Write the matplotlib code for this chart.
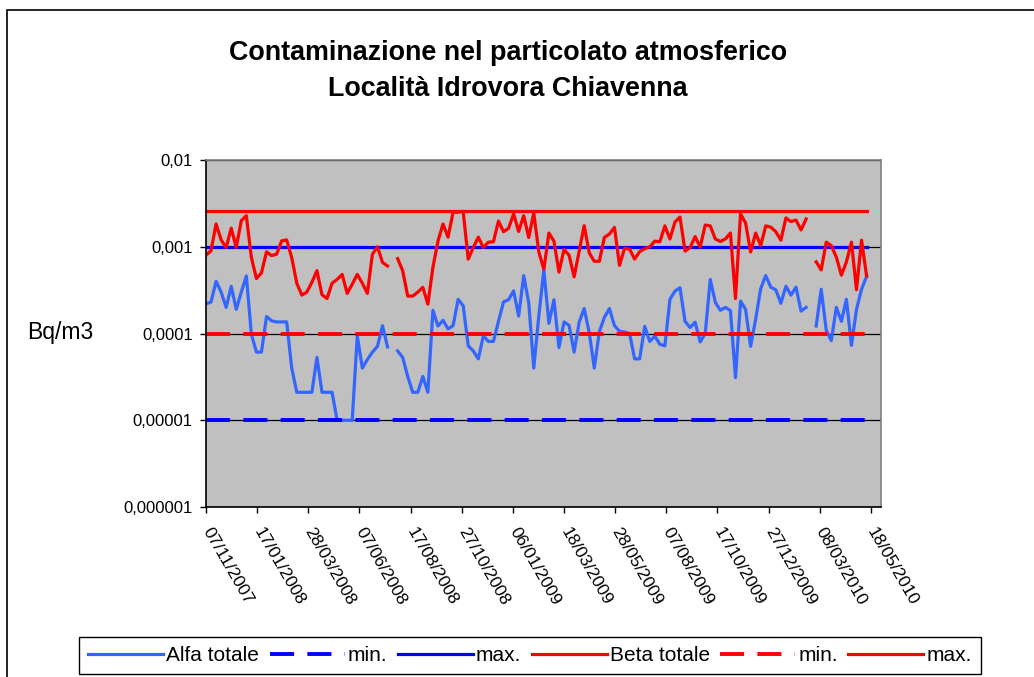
import matplotlib
matplotlib.use("Agg")
import matplotlib.pyplot as plt
import numpy as np
import pandas as pd
from matplotlib.patches import Rectangle

nan = np.nan

# weekly samples, Bq/m3
alfa = [2.2e-4, 2.3e-4, 4.0e-4, 3.0e-4, 2.0e-4, 3.5e-4, 1.9e-4, 3.0e-4, 4.6e-4, 0.98e-4,
        0.61e-4, 0.61e-4, 1.57e-4, 1.40e-4, 1.36e-4, 1.36e-4, 1.36e-4, 0.40e-4, 0.21e-4, 0.21e-4,
        0.21e-4, 0.21e-4, 0.53e-4, 0.21e-4, 0.21e-4, 0.21e-4, 1.0e-5, 1.0e-5, 1.0e-5, 1.0e-5,
        0.94e-4, 0.40e-4, 0.50e-4, 0.61e-4, 0.71e-4, 1.23e-4, 0.70e-4, nan, 0.63e-4, 0.53e-4,
        0.32e-4, 0.21e-4, 0.21e-4, 0.32e-4, 0.21e-4, 1.85e-4, 1.22e-4, 1.42e-4, 1.13e-4, 1.23e-4,
        2.48e-4, 2.09e-4, 0.72e-4, 0.63e-4, 0.51e-4, 0.94e-4, 0.81e-4, 0.81e-4, 1.38e-4, 2.31e-4,
        2.45e-4, 3.1e-4, 1.59e-4, 4.65e-4, 2.26e-4, 0.40e-4, 1.6e-4, 5.4e-4, 1.31e-4, 2.45e-4,
        0.69e-4, 1.36e-4, 1.24e-4, 0.61e-4, 1.35e-4, 1.94e-4, 1.02e-4, 0.40e-4, 1.05e-4, 1.53e-4,
        1.94e-4, 1.23e-4, 1.06e-4, 1.04e-4, 1.0e-4, 0.51e-4, 0.51e-4, 1.21e-4, 0.81e-4, 0.93e-4,
        0.75e-4, 0.72e-4, 2.48e-4, 3.08e-4, 3.37e-4, 1.38e-4, 1.17e-4, 1.35e-4, 0.80e-4, 1.0e-4,
        4.2e-4, 2.29e-4, 1.85e-4, 2.0e-4, 1.84e-4, 0.31e-4, 2.36e-4, 1.9e-4, 0.71e-4, 1.46e-4,
        3.29e-4, 4.65e-4, 3.42e-4, 3.18e-4, 2.23e-4, 3.5e-4, 2.77e-4, 3.42e-4, 1.81e-4, 2.0e-4,
        nan, 1.22e-4, 3.24e-4, 1.09e-4, 0.83e-4, 2.0e-4, 1.38e-4, 2.48e-4, 0.73e-4, 1.9e-4,
        3.24e-4, 4.55e-4]

beta = [0.80e-3, 0.90e-3, 1.83e-3, 1.20e-3, 0.98e-3, 1.64e-3, 0.98e-3, 2.0e-3, 2.28e-3, 0.75e-3,
        0.43e-3, 0.50e-3, 0.875e-3, 0.79e-3, 0.82e-3, 1.17e-3, 1.20e-3, 0.75e-3, 0.38e-3, 0.277e-3,
        0.30e-3, 0.39e-3, 0.53e-3, 0.28e-3, 0.253e-3, 0.38e-3, 0.42e-3, 0.48e-3, 0.29e-3, 0.37e-3,
        0.48e-3, 0.38e-3, 0.29e-3, 0.82e-3, 1.0e-3, 0.66e-3, 0.60e-3, nan, 0.73e-3, 0.53e-3,
        0.27e-3, 0.27e-3, 0.30e-3, 0.34e-3, 0.218e-3, 0.58e-3, 1.16e-3, 1.83e-3, 1.29e-3, 2.5e-3,
        2.5e-3, 2.55e-3, 0.72e-3, 0.98e-3, 1.29e-3, 0.98e-3, 1.13e-3, 1.14e-3, 1.98e-3, 1.49e-3,
        1.63e-3, 2.39e-3, 1.50e-3, 2.28e-3, 1.28e-3, 2.45e-3, 0.87e-3, 0.55e-3, 1.44e-3, 1.16e-3,
        0.51e-3, 0.93e-3, 0.80e-3, 0.45e-3, 0.89e-3, 1.75e-3, 0.85e-3, 0.68e-3, 0.68e-3, 1.28e-3,
        1.40e-3, 1.67e-3, 0.61e-3, 0.96e-3, 0.94e-3, 0.72e-3, 0.88e-3, 0.95e-3, 1.0e-3, 1.16e-3,
        1.14e-3, 1.74e-3, 1.23e-3, 1.93e-3, 2.2e-3, 0.89e-3, 0.98e-3, 1.31e-3, 0.99e-3, 1.78e-3,
        1.74e-3, 1.23e-3, 1.15e-3, 1.23e-3, 1.44e-3, 0.253e-3, 2.39e-3, 1.88e-3, 0.87e-3, 1.44e-3,
        1.03e-3, 1.74e-3, 1.68e-3, 1.49e-3, 1.19e-3, 2.15e-3, 1.95e-3, 2.03e-3, 1.56e-3, 2.09e-3,
        nan, 0.67e-3, 0.54e-3, 1.13e-3, 1.03e-3, 0.76e-3, 0.47e-3, 0.67e-3, 1.13e-3, 0.32e-3,
        1.19e-3, 0.46e-3]

alfa_min = 1e-5
alfa_max = 1e-3
beta_min = 1e-4
beta_max = 2.6e-3

start_date = "2007-11-07"
end_axis = "2010-06-01"
tick_labels = ["07/11/2007", "17/01/2008", "28/03/2008", "07/06/2008", "17/08/2008",
               "27/10/2008", "06/01/2009", "18/03/2009", "28/05/2009", "07/08/2009",
               "17/10/2009", "27/12/2009", "08/03/2010", "18/05/2010"]
y_ticks = [1e-6, 1e-5, 1e-4, 1e-3, 1e-2]
y_tick_labels = ["0,000001", "0,00001", "0,0001", "0,001", "0,01"]

plt.rcParams["font.family"] = ["Liberation Sans", "DejaVu Sans"]

dates = pd.date_range(start_date, periods=len(alfa), freq="7D")
alfa = np.array(alfa)
beta = np.array(beta)

W, H = 1034, 677
fig = plt.figure(figsize=(W / 100, H / 100), dpi=100)
ax = fig.add_axes([206 / W, 1 - 507 / H, (881 - 206) / W, (507 - 160) / H])
ax.set_facecolor("#C0C0C0")

lw = 2.3
dash_lw = 2.8
dash = (6.2, 3.4)
ax.plot(dates, alfa, color="#3366FF", lw=lw, label="Alfa totale")
ax.plot(dates, np.full(len(dates), alfa_min), color="#0000FF", lw=dash_lw, dashes=dash, label="min.")
ax.plot(dates, np.full(len(dates), alfa_max), color="#0000FF", lw=lw, label="max.")
ax.plot(dates, beta, color="#FF0000", lw=lw, label="Beta totale")
ax.plot(dates, np.full(len(dates), beta_min), color="#FF0000", lw=dash_lw, dashes=dash, label="min.")
ax.plot(dates, np.full(len(dates), beta_max), color="#FF0000", lw=lw, label="max.")

ax.set_yscale("log")
ax.set_ylim(1e-6, 1e-2)
ax.set_yticks(y_ticks)
ax.set_yticklabels(y_tick_labels)
ax.yaxis.set_minor_locator(matplotlib.ticker.NullLocator())
ax.yaxis.grid(True, color="black", lw=0.9)
ax.set_axisbelow(True)

tick_dates = pd.to_datetime(tick_labels, format="%d/%m/%Y")
ax.set_xlim(pd.Timestamp(start_date), pd.Timestamp(end_axis))
ax.set_xticks(tick_dates)
ax.set_xticklabels(tick_labels, rotation=-60, ha="left", va="center", rotation_mode="anchor")
ax.xaxis.set_minor_locator(matplotlib.ticker.NullLocator())

ax.tick_params(axis="both", direction="out", length=4.5, width=1, color="black")
ax.tick_params(axis="y", pad=5, labelsize=12)
ax.tick_params(axis="x", pad=11, labelsize=12.5)

for s in ["left", "bottom"]:
    ax.spines[s].set_color("black")
    ax.spines[s].set_linewidth(1.2)
for s in ["top", "right"]:
    ax.spines[s].set_color("#808080")
    ax.spines[s].set_linewidth(1.2)

fig.text(508 / W, 1 - 71 / H, "Contaminazione nel particolato atmosferico\nLocalità Idrovora Chiavenna",
         ha="center", va="center", fontsize=19.4, fontweight="bold", linespacing=1.45)
fig.text(27 / W, 1 - 333 / H, "Bq/m3", ha="left", va="center", fontsize=16.5)

leg = fig.legend(*ax.get_legend_handles_labels(), loc="center", ncol=6,
                 bbox_to_anchor=(530 / W, 1 - 655.5 / H), fontsize=15, frameon=True,
                 fancybox=False, edgecolor="black", framealpha=1, handlelength=3.6,
                 handletextpad=0.15, columnspacing=0.5, borderpad=0.42, borderaxespad=0)
leg.get_frame().set_linewidth(1)

fig.patches.append(Rectangle((7 / W, -0.1), 1.2, 1 - 10 / H + 0.1, transform=fig.transFigure,
                             fill=False, edgecolor="black", lw=1.2))

fig.savefig("out.png", dpi=100)
